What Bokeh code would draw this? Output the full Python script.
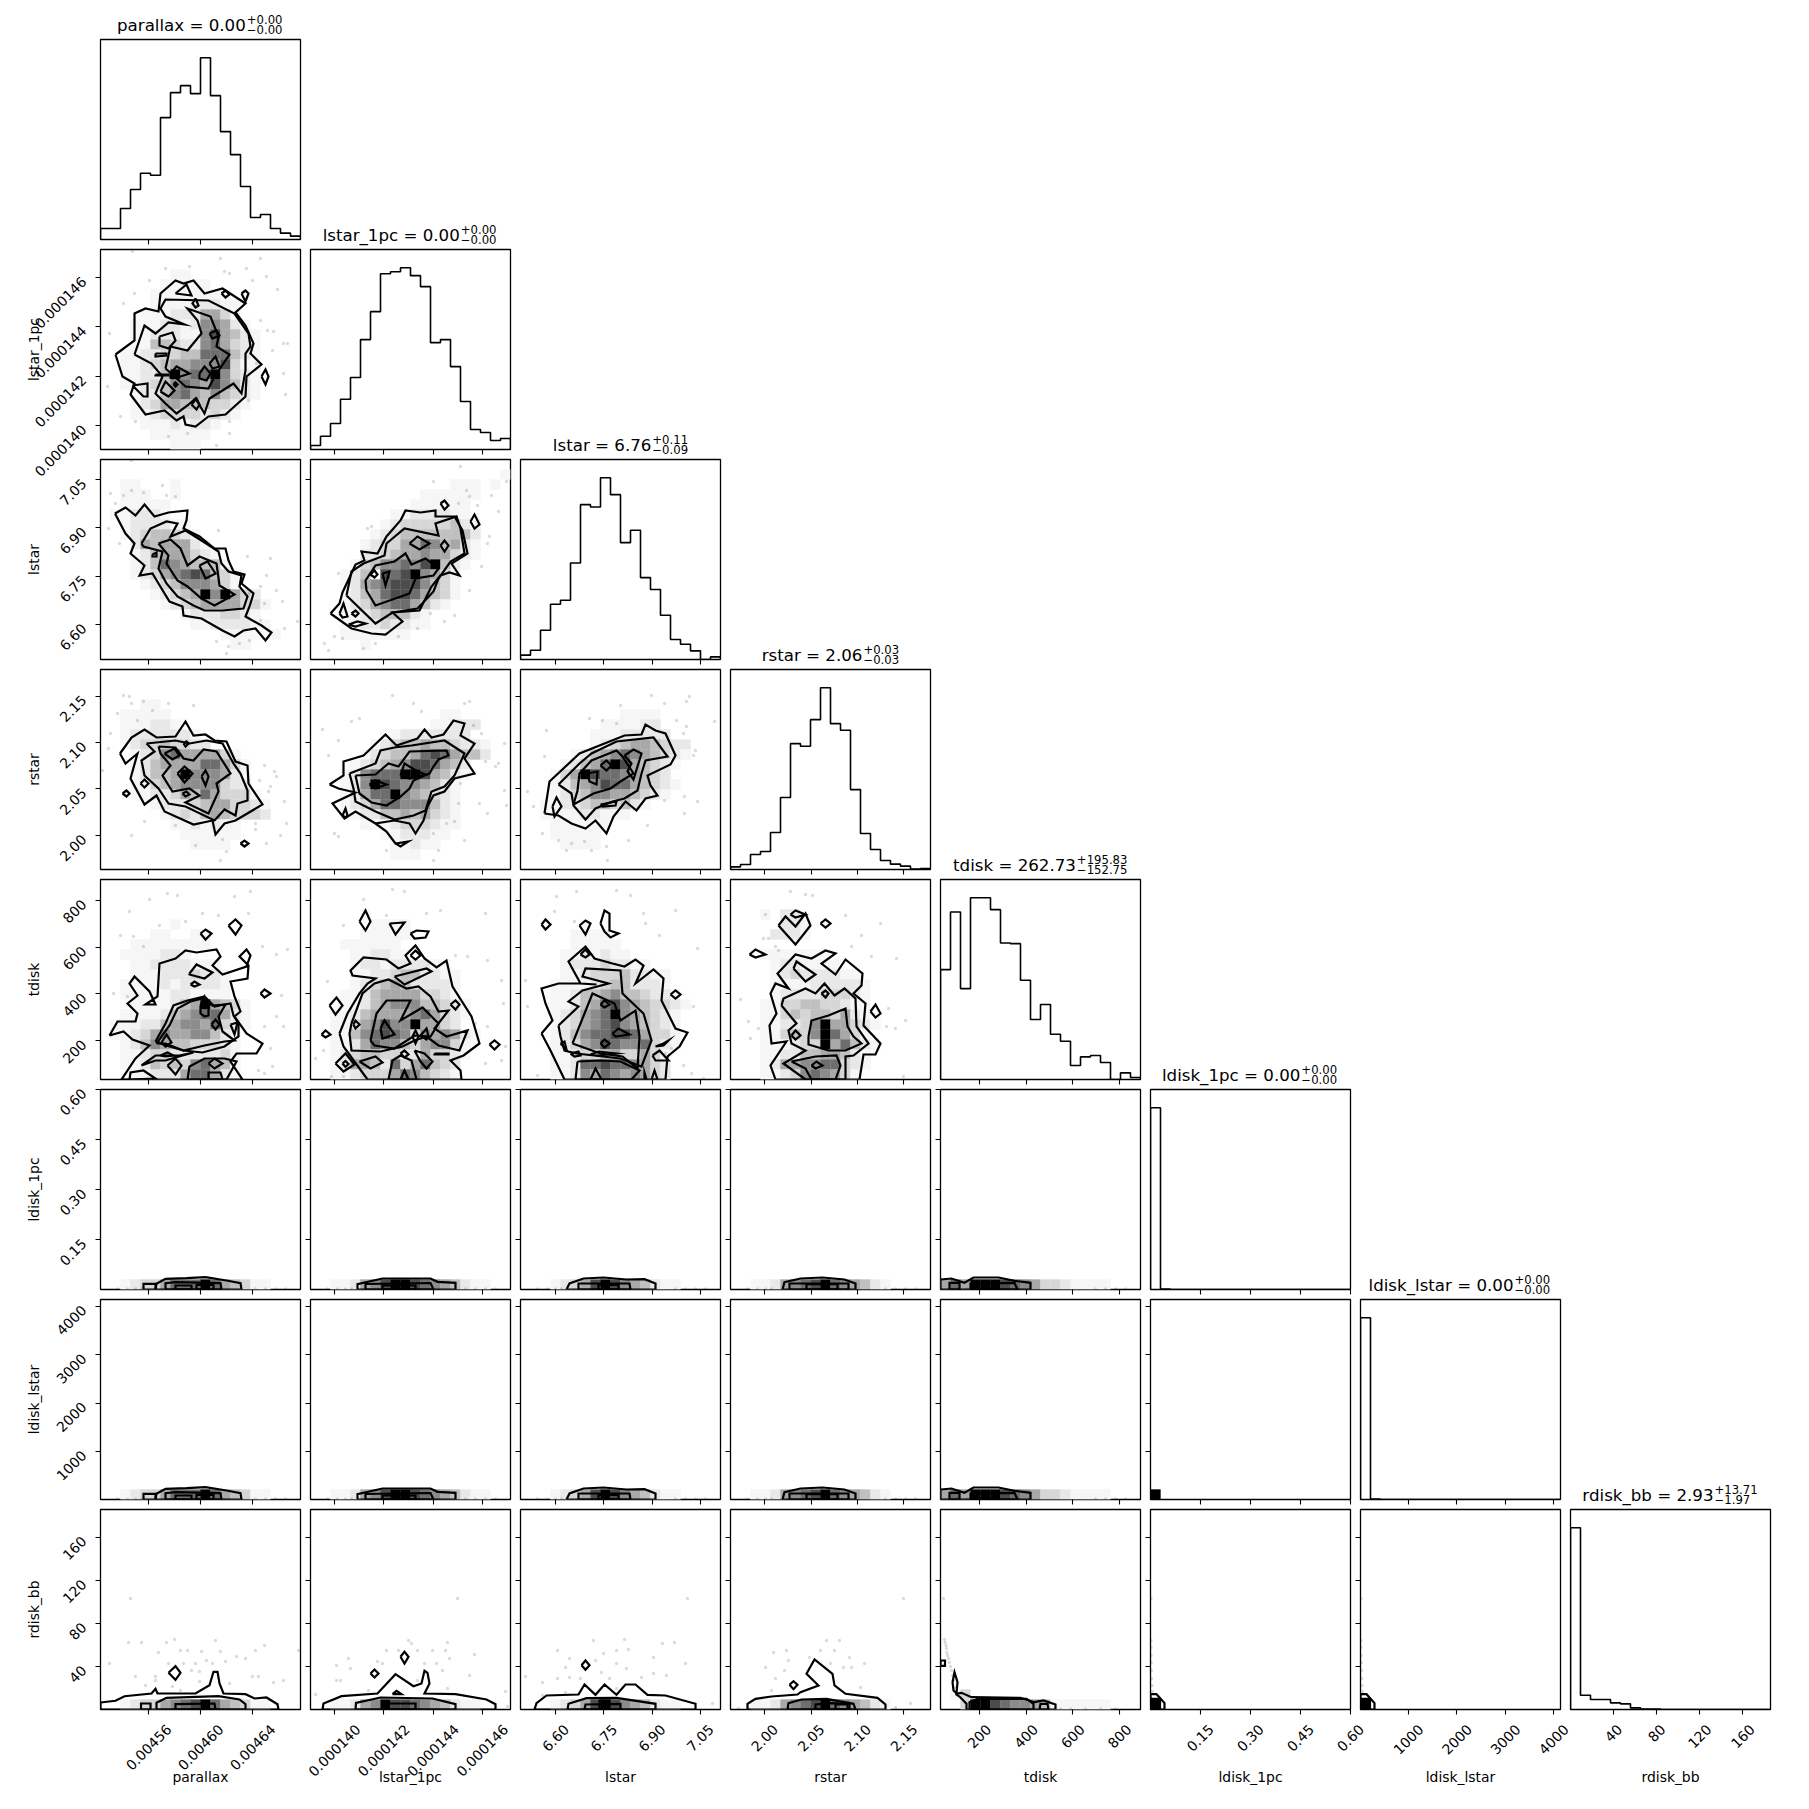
import math
import numpy as np
from bokeh.plotting import figure
from bokeh.layouts import row, column
from bokeh.models import Range1d, FixedTicker, Spacer
from bokeh.core.properties import value
from bokeh.embed import file_html
from bokeh.resources import INLINE

names = ["parallax", "lstar_1pc", "lstar", "rstar", "tdisk", "ldisk_1pc", "ldisk_lstar", "rdisk_bb"]
range_lo = [0.0045229, 0.00013903, 6.491, 1.9633, 34.0, 0.001, 7.0, 0.1]
range_hi = [0.0046768, 0.00014714, 7.113, 2.1786, 890.0, 0.60, 4138.0, 185.7]
tick_values = [
    [0.00456, 0.00460, 0.00464],
    [0.000140, 0.000142, 0.000144, 0.000146],
    [6.60, 6.75, 6.90, 7.05],
    [2.00, 2.05, 2.10, 2.15],
    [200, 400, 600, 800],
    [0.15, 0.30, 0.45, 0.60],
    [1000, 2000, 3000, 4000],
    [40, 80, 120, 160],
]
tick_labels = [
    ["0.00456", "0.00460", "0.00464"],
    ["0.000140", "0.000142", "0.000144", "0.000146"],
    ["6.60", "6.75", "6.90", "7.05"],
    ["2.00", "2.05", "2.10", "2.15"],
    ["200", "400", "600", "800"],
    ["0.15", "0.30", "0.45", "0.60"],
    ["1000", "2000", "3000", "4000"],
    ["40", "80", "120", "160"],
]
title_main = ["0.00", "0.00", "6.76", "2.06", "262.73", "0.00", "0.00", "2.93"]
title_up = ["+0.00", "+0.00", "+0.11", "+0.03", "+195.83", "+0.00", "+0.00", "+13.71"]
title_dn = ["\u22120.00", "\u22120.00", "\u22120.09", "\u22120.03", "\u2212152.75", "\u22120.00", "\u22120.00", "\u22121.97"]

hist_0 = [33,33,93,150,199,193,366,441,462,438,546,432,324,255,159,66,75,33,19,10]
hist_1 = [12,40,78,151,216,330,414,528,534,546,522,489,321,330,249,144,60,51,27,33]
hist_2 = [13,28,88,166,178,290,465,458,546,495,351,388,246,210,133,60,46,26,0,8]
hist_3 = [8,15,45,54,111,216,378,370,450,546,438,418,240,108,60,27,16,10,1,3]
hist_4 = [330,503,273,546,546,510,410,408,298,180,225,136,115,42,68,72,51,0,20,6]
hist_5 = [546,1,0,0,0,0,0,0,0,0,0,0,0,0,0,0,0,0,0,0]
hist_6 = [546,1,0,0,0,0,0,0,0,0,0,0,0,0,0,0,0,0,0,0]
hist_7 = [546,43,30,30,20,17,5,1,1,0,0,0,0,0,0,0,0,0,0,0]

# density cells: one string per bin row, top row first, digit = darkness
cells_1_0 = ["","","00000001100000000000","00000011111000000000","00000111111110000000","00000111122211000000",
 "00001112225531000000","00011122126652100000","00011222116854210000","00011443226753210000","00112233447774210000",
 "00112345566683110000","00112249677963210000","00112346765864210000","00012246754643210000","00012355444332100000",
 "00011233332321000000","00001112122100000000","00000111111000000000","00000001110000000000"]
cells_2_0 = ["","","00110001","00111001","00111110","0112221","0012222110","00123443210","000254555210","000124555321",
 "000124765444100","000123567874310","0000123466653100","0000012345969532","00000012345555331","0000000012223321",
 "00000000011222211","000000000000111111","00000000000001100",""]
cells_2_1 = ["","00000000000000000001","0000000000000011101","00000000000111111","0000000000111111","0000000011222211",
 "00000001233333421","00000012344444442","00000123355764521","00000223455655321","00001346676894210","0001240878965310",
 "00012567888643100","0001245788754310","000123567754210","000112344421000","00011223221100","000111111100","00000100",""]
cells_3_0 = ["","","","000011","0011111","00111221","0012222221","00123343322","00012367555531","0001245555775310",
 "000124459666521","000113456666322","00011223547533310","00000122234553321","00000012324543332","00000001121211",
 "00000000111111","0000000001111","",""]
cells_3_1 = ["","","","","000000000000011","00000000000011222","0000000112222222","000000123445443221","000001234457875442",
 "000012345688754 2","0001267779985421","000126987665421","000125779654321","0001235776664210","000112244545321",
 "00000111233 3211","000000011222 11","0000000011211","000000001110",""]
cells_3_2 = ["","","","","00000000001111","00000000111122","000000011122222","00000001234554322","00000124567654321",
 "00001245798543 21","000135987765432","00012456877543210","0001234665543210","0011223443421","001111221110",
 "0001111 11","0001111100","00001111","",""]
cells_4_0 = ["","","","","000000010","00000110011","00011111111","00111122 1","0001122221 11","00011122 232 21",
 "001111212 2221","0011111221111","000111124595431","001111245677521","011122456657321","01123565566421","00124654433321",
 "00112332222231","00112434367541","00011222577521"]
cells_4_1 = ["","","","00000100","0000001111","0000011111","0001111 11","0000112211","00001221222211","000011223442211",
 "000012345422221","000112455553321","000112456664 4321","00112455556 75321","001135686695532","00114678763656521",
 "001125766435 6631","0012344332253321","001255427357432","001123335764321"]
cells_4_2 = ["","","","","000000100","000001111","0000011111","000011212 11","000012223 2211","00001123334 2211",
 "0001111234 42221","0001124456 443221","0001124578654332 1","0001235679654321","000123567865 4321","00012467788753 31",
 "000123568766732 1","00011233453353 1","000112778776532","000112657656532"]
cells_4_3 = ["","","","00010 22","0000022 1","0000222 1","","0001111111","0000122 1111","00001232222 11","00001111222221",
 "000012222333 21","0001133443321 1","0001134344352 1","0001122369553 21","000113436975 31","000111233957421",
 "000112244554 21","000125566 77321","000112367653 1"]
cells_5_0 = ["00123357779754311000"]
cells_5_1 = ["00112568998765421100"]
cells_5_2 = ["00012358986542110000"]
cells_5_3 = ["00112567897654210000"]
cells_5_4 = ["57599987653321111000"]
cells_6_5 = ["9"]
cells_7_0 = ["00123356789754311000"]
cells_7_1 = ["00112569887654211000"]
cells_7_2 = ["00012358986542110000"]
cells_7_3 = ["00112567897654210000"]
cells_7_4 = ["01300000000000000000", "00399876654111111000"]
cells_7_5 = ["9"]
cells_7_6 = ["9"]

# contours in bin units along each axis (0-20)
cont_1_0 = [
 [(1.5,9.5),(3.4,10.9),(3.4,13.6),(4.5,14.1),(5.8,13.8),(6,15.6),(7.5,16.9),(8.3,16.6),(9.3,16.9),(10.4,15.6),(12.2,16.1),(14.5,14.6),(13.5,13.7),(14.5,12.4),(15.3,10.6),(15,9.6),(16.1,8.5),(14.6,7.3),(14.5,5.3),(12.5,3.5),(10.8,3.3),(9.5,2.3),(8.5,2.5),(8.3,3.3),(7.6,2.9),(6.4,3.9),(4.5,3.5),(3,5.5),(3.4,6.6),(2.2,7.3)],
 [(3.4,9.5),(4.4,12.4),(5.5,11.6),(6.8,12.7),(8.4,12.5),(6.5,13.3),(6,14.1),(6.5,15),(10.8,14.9),(13.4,13.6),(14.8,11.6),(15,10.3),(14.5,9.6),(14.5,7.9),(14.1,5.6),(13.3,6.6),(12.2,5.9),(10.9,5.1),(10.4,3.6),(9.5,5.1),(8.7,4.4),(7.6,3.6),(6.5,4.6),(5.5,5.6),(6.2,7.3),(5.1,8.6)],
 [(6.5,8.1),(7,10.3),(8.7,9.9),(10.1,11.6),(9.7,12.9),(8.7,14.1),(11,13.3),(11.8,11.3),(11.6,10.3),(12.9,9.5),(11.4,7.3),(10.8,6.1),(8.5,6.3),(7.4,7.3)],
 [(5.9,11.3),(7.2,11.7),(7.5,10.9),(6.8,10.1),(5.9,10.4)],
 [(5.5,9.6),(6.6,9.6),(6.6,9.4),(5.5,9.3)],
 [(7.5,15.6),(8.6,16.5),(9.1,15.4)],
 [(9.5,15.1),(9.8,14.4),(9.5,14.2),(9.2,14.6)],
 [(12.1,15.6),(12.5,15.9),(12.9,15.5),(12.5,15.2)],
 [(14.1,15.6),(14.5,15.9),(14.8,15.6),(14.5,14.8)],
 [(10.9,11.6),(11.6,11.9),(11.9,11.4),(11.2,11.1)],
 [(10.9,8.6),(11.5,9.3),(11.9,8.3),(11.2,8.1)],
 [(7,7.6),(7.6,8.3),(8.9,7.6),(8,7.3),(7,7.2)],
 [(5.5,7.5),(6.8,7.5),(6.8,7.4),(5.5,7.4)],
 [(9.9,7.6),(10.4,8.3),(11,7.6),(10.6,6.9),(9.9,7.1)],
 [(6,5.8),(6.5,6.8),(7.4,5.9),(6.8,5.3)],
 [(7.3,6.55),(7.5,6.7),(7.7,6.5),(7.5,6.3)],
 [(3.2,6.4),(4.7,6.6),(4.7,5.3),(4.3,5.3)],
 [(9.1,4.5),(9.6,5.1),(9.9,4.5),(9.6,4)],
 [(16.1,7.3),(16.5,8),(16.8,7.3),(16.5,6.5)],
]
cont_2_0 = [
 [(1.45,14.6),(2.5,15.2),(3.5,14.4),(4.4,15.5),(5.4,14.3),(6.8,14.7),(8.7,14.9),(8.6,13.9),(8.3,13.1),(9.9,12.3),(11.4,11.1),(12.5,11.1),(12.8,9.9),(13.3,8.8),(14.4,8.5),(14.1,7.6),(15.3,6.6),(14.9,5.3),(14.5,4.3),(16.1,3.4),(17.1,2.7),(16.5,1.9),(15.5,3.1),(14.3,2.9),(13.4,2.3),(12.2,2.9),(10.1,4.1),(8.3,4.4),(8.2,5.3),(6.9,5.8),(5.8,7.6),(5.2,8.6),(3.9,8.4),(4.4,9.4),(3,10.6),(3.4,11.6),(2.5,12.6)],
 [(4.1,11.6),(5,13.1),(6.6,13.8),(7.7,13.6),(7,12.3),(8.5,12.9),(10.1,11.9),(11.8,10.8),(12.1,9.6),(12.8,8.8),(14.1,8.4),(13.9,7.3),(14.7,6.3),(14.3,5.1),(12.2,4.9),(10.4,4.9),(9.3,5.4),(7.7,6.3),(6.6,7.6),(5.8,9.1),(6.2,10.8),(4.3,11.3)],
 [(5.8,11.6),(7,12),(8,11.1),(8.7,9.4),(9.9,10.3),(11.6,9.6),(11.9,7.4),(13.4,6.5),(11.4,5.4),(10.1,6.1),(8.7,7.3),(7.7,7.9),(6.6,9.6),(6.8,10.4)],
 [(9.9,9.4),(10.7,9.8),(11.5,8.6),(10.5,8.1)],
 [(5.2,10.5),(5.6,10.7),(5.6,10.3),(5.2,10.3)],
]
cont_2_1 = [
 [(2,4.6),(2.9,5.6),(3.2,6.7),(4.5,9.5),(5.4,9.9),(5.1,10.8),(6.7,10.6),(7.6,12.3),(9,13.9),(9.5,14.9),(11,14.7),(12.5,14.9),(12.5,14.3),(14.4,14.3),(15.2,12.9),(15.7,10.6),(14.1,9.6),(14.9,8.4),(13.9,8.7),(13,8.4),(12.1,7.3),(10.9,4.9),(8.2,4.7),(9.2,3.8),(7.5,2.5),(6.1,2.6),(4.1,3.1)],
 [(3.6,6.4),(4.1,8.8),(5.3,9.6),(7.4,10.4),(7.6,11.6),(9.4,13.1),(12.8,12.4),(12.5,13.6),(14.6,14.3),(15,13.1),(15.4,10.6),(14,9.8),(12.8,8.1),(12.3,6.8),(10.7,5.1),(8.2,4.7),(6.5,3.6)],
 [(5.5,7.9),(6.5,9.4),(8.4,9.8),(9.5,10.6),(10.1,9.5),(11.5,10.1),(12.8,9.1),(12.3,8.4),(10.5,8.1),(9.9,6.6),(8.2,6),(6.5,5.4),(5.6,6.9)],
 [(9.9,11.6),(10.7,12.3),(11.9,11.6),(10.9,11)],
 [(13,11.4),(13.4,11.9),(13.8,11.4),(13.4,10.8)],
 [(6,8.5),(6.4,8.9),(6.7,8.5),(6.4,8.2)],
 [(7.2,8.6),(7.9,8.8),(7.5,7.4)],
 [(13,15.6),(13.4,15.9),(13.8,15.4),(13.4,15)],
 [(16,13.8),(16.4,14.5),(16.9,13.5),(16.4,13.1)],
 [(2.9,4.6),(3.3,5.6),(3.7,4.3),(3.2,4.2)],
 [(4.1,4.6),(4.5,4.9),(4.8,4.6),(4.5,4.3)],
 [(3.8,3.5),(4.7,3.8),(5.5,3.6),(4.5,3.3)],
]
cont_3_0 = [
 [(1.95,11.6),(3.1,13.2),(4.4,14),(5.6,13.2),(7.5,13.3),(8.5,14.8),(9.3,13.4),(10.5,13.5),(11.4,12.9),(12.6,12.8),(13.5,10.8),(14.7,10.4),(14.8,8.6),(16.2,6.5),(13.5,4.9),(12.4,4.6),(11.5,3.5),(11.2,4.9),(9.3,4.5),(6.4,5.8),(5.6,7.4),(4.4,6.5),(3,9.1),(3.7,11.6),(2.5,10.6)],
 [(4.6,12.6),(7.5,12.9),(8.9,12.6),(10.6,12.9),(12.2,12.6),(13.3,10.6),(14,9.6),(14.7,7.9),(14.7,6.9),(13.7,6.6),(13.5,5.4),(12.4,6),(11.4,4.9),(8.5,6.3),(6.8,6.6),(5.8,8.1),(4.4,9.4),(4.1,10.9),(5.4,11.8)],
 [(5.8,12.3),(7.5,12.2),(8.3,11.1),(9.3,10.9),(10.3,12),(11.6,11.8),(13,9.6),(11.6,8.6),(11.8,7.8),(10.8,5.6),(8.5,6.7),(9.9,7.4),(8.9,8.1),(7.2,7.8),(6.2,9.4),(7,10.4),(6,11.6)],
 [(6.4,11.6),(7.4,12.1),(7.9,11.4),(7.2,11)],
 [(7.7,9.6),(8.4,10.3),(9.2,9.6),(8.4,8.7)],
 [(10.1,9.3),(10.5,9.9),(10.8,9.3),(10.5,8.4)],
 [(8.2,7.6),(8.6,7.8),(8.9,7.5),(8.5,7.3)],
 [(8.3,12.6),(8.6,12.8),(8.8,12.6),(8.5,12.3)],
 [(4,8.6),(4.4,9),(4.8,8.6),(4.4,8.2)],
 [(2.2,7.6),(2.6,7.9),(2.9,7.6),(2.6,7.3)],
 [(14,2.6),(14.4,2.9),(14.8,2.6),(14.4,2.3)],
]
cont_3_1 = [
 [(1.9,8.5),(3.3,9.4),(3.3,10.8),(5.3,11.4),(7.5,13.5),(8.6,12.4),(10.7,13.1),(11.4,14),(12.1,13.2),(13.3,13.5),(14.3,14.9),(15.4,14.6),(15,13.4),(16.4,12.6),(15.4,11.1),(16.4,9.6),(14.4,9.1),(13.4,7.8),(12.3,7.4),(11.7,6.3),(11.3,4.9),(10.5,3.6),(9.9,4.6),(8.4,4.9),(6.5,4.6),(7.6,3.8),(8.5,2.6),(9.8,2.8),(9,2.3),(8.5,2.6),(7.6,3.8),(6.5,4.6),(5.5,5.2),(4.5,5.8),(3.4,5.1),(2.2,6.6),(4.5,7.7),(2.8,8.1)],
 [(3.9,9.6),(6.5,10.6),(7,11.9),(8.4,12.2),(10.1,12.4),(13.4,12.9),(15.4,11.6),(14.4,9.4),(13.4,8.3),(12.1,7.8),(11.5,5.9),(10.3,5.4),(8.4,5),(6.5,5.8),(4.5,6.8),(4.3,8.1)],
 [(4.5,9.4),(6.5,9.5),(7.8,10.6),(8.8,10.3),(9.9,11.8),(13.6,11.9),(13.8,11.4),(12.8,11),(12.3,10.3),(11.9,9.6),(11.4,9.4),(10.3,8.9),(9.9,8.1),(9,7.3),(7.6,6.4),(6.1,6.7),(4.9,7.6)],
 [(9,9.4),(9.4,10.6),(10.7,9.8),(11.5,9.5),(9.9,9.1)],
 [(5.9,8.5),(6.5,8.9),(7.6,8.5),(6.5,8.1)],
 [(3.2,5.4),(3.5,6.1),(3.7,5.4),(3.5,5.2)],
]
cont_3_2 = [
 [(2.4,5.6),(2.9,8.8),(5.9,11.6),(10.4,13.4),(12.1,13.5),(12.5,14.5),(13.5,13.9),(14.5,13.6),(15.5,11.4),(15,10.5),(12.7,9.4),(13,8.4),(13.7,7.4),(12.5,7.1),(11.6,5.9),(10.5,6.8),(9.3,5.3),(8.6,3.6),(7.5,4.9),(6.5,4.1),(5.1,4.6),(3.8,5.4)],
 [(3.8,8.5),(5.9,10.6),(7.1,11.6),(9.6,12.8),(13.3,13.2),(14.7,11.3),(12.5,10.9),(12.1,9.6),(11.7,7.9),(10.4,7.1),(9.2,6.8),(7.5,6.1),(6.5,5),(5.3,6.4),(5.1,7.6)],
 [(5.3,6.5),(5.7,7.9),(5.9,9.6),(7.1,10.9),(9.6,11.9),(10.2,11.3),(11.3,9.6),(10,8.8),(9,8.1),(7.3,7.6)],
 [(10.4,11.4),(11.3,12),(12.1,11.6),(11.7,10.3),(11.3,9),(10.7,9.8),(11.1,10.6)],
 [(8,10.4),(8.6,10.9),(9.1,10.4),(8.6,9.9)],
 [(6.7,9.6),(7.7,9.8),(7.6,8.5),(6.9,8.8)],
 [(8,6.5),(9.6,6.8),(9.5,6.4),(8.2,6.3)],
 [(3.2,6.3),(3.6,7.2),(4.1,6.3),(3.4,5.3)],
]
cont_4_0 = [
 [(0.9,4.4),(1.7,5.8),(3.5,5.8),(3.7,6.6),(2.7,7.6),(3.7,8.4),(2.9,9.6),(3.4,10.3),(4.9,8.8),(5.5,7.5),(4.5,7.5),(5.7,8.3),(5.9,11.6),(7.5,12.1),(8.5,12.9),(9.6,12.7),(11.6,13),(12,12.3),(11.2,11.4),(12.2,10.5),(14.6,11.3),(15,12.4),(14.6,13),(13.9,12.3),(14.8,11.4),(14.7,10.1),(13,9.8),(13.4,8.3),(14,6.8),(13.4,6.3),(14.6,4.6),(16.2,3.6),(15.6,2.6),(13.6,2.6),(13,1.8),(14.2,0),(2.1,0),(3.5,2.1),(4.9,3.4),(3.2,4),(2.3,4.8)],
 [(5.5,3.8),(6.5,5.6),(7.3,7.4),(8.7,7.9),(10.4,8.3),(11.4,7.3),(12.4,7.5),(13,7.6),(13.3,6.4),(13.8,5.6),(13.8,4.3),(12.4,3.3),(10.2,2.7),(8.3,2.9),(6.9,3.3)],
 [(8.7,0),(8.9,1.3),(10.4,2.1),(12.4,2.1),(13.6,1.8),(12.6,0)],
 [(4.1,1.4),(5.5,2.4),(7.9,2.4),(9.3,2.7),(7.5,2.2),(6.5,1.9),(5.5,1.9)],
 [(2.9,0),(3,0.7),(4.3,0.9),(5.5,0.1)],
 [(5.6,3.6),(6.9,5.4),(7.7,7.1),(9,7.8),(10.2,8.1),(11.2,7.4),(12.5,7.5),(11.8,6.3),(12.2,4.8),(13.4,3.9),(12.4,3.8),(10.4,3.4),(8.3,2.9),(6.5,3.6)],
 [(6.1,3.7),(6.6,4.5),(7.1,3.7),(6.5,3.3)],
 [(6,2.4),(6.7,2.7),(7.3,2.4),(6.5,2.3)],
 [(6.7,1.4),(7.5,2.1),(8.1,1.4),(7.5,0.5)],
 [(10.8,1.6),(11.4,2.1),(12.2,1.6),(11.4,1.1)],
 [(10.8,0),(10.8,0.7),(12,0.7),(12.2,0)],
 [(10,7.4),(10.4,8.3),(10.8,7.6),(10.8,6.4),(10.4,6.3),(10,6.6)],
 [(11.1,5.5),(11.5,6),(11.9,5.5),(11.5,5)],
 [(13,5.5),(13.7,5.7),(13.4,4.5)],
 [(8.9,10.6),(9.6,11.5),(11.2,10.7),(10.4,10.1),(8.9,10.5)],
 [(9,9.5),(9.4,9.8),(9.9,9.5),(9.4,9.3)],
 [(10,14.6),(10.5,15),(11.1,14.6),(10.5,14)],
 [(12.8,15.4),(13.5,16),(14.1,15.4),(13.5,14.5)],
 [(16,8.6),(16.4,9),(17,8.6),(16.4,8.2)],
]
cont_4_1 = [
 [(2.9,4.6),(3.7,6.6),(4.9,8.6),(5.7,9.6),(6.5,10.1),(4.2,10.4),(4,10.9),(5.3,12.2),(7.6,12),(8.8,11.1),(10,11.6),(9.5,12.4),(10.5,13.4),(11.4,12.1),(12.6,11.2),(13.6,11.9),(14.2,9.3),(16.1,6.3),(16.9,3.6),(15.3,2.4),(14,1.9),(15,0.9),(15.1,0),(5.7,0),(4.9,1.1),(3.3,3.3)],
 [(2.5,1.6),(3.5,2.6),(4.4,1.5),(3.3,0.8)],
 [(3.2,1.6),(3.5,1.85),(3.8,1.55),(3.5,1.25)],
 [(4.1,5.6),(5.2,8.6),(6.4,9.6),(7.8,10),(9.6,9.1),(10.8,9.3),(12,8.3),(12.8,6.8),(13.8,6.9),(12.4,5.1),(13.6,4.3),(15.7,4.9),(14.9,2.9),(12.8,3.4),(11.6,4.3),(10.4,3.9),(9.2,3.3),(7,2.8),(4.1,2.9),(3.9,4.6)],
 [(6,3.9),(6.6,6.6),(7.6,7.9),(10,7.9),(9,5.9),(11.2,7.2),(12.8,5.6),(12,4.3),(10.4,4.4),(8.4,3.1),(6.4,3.4)],
 [(7,5.1),(7.4,5.9),(8.4,4.5),(7.2,4.1)],
 [(11,4.4),(11.6,5.1),(11.8,4.3),(11.6,4)],
 [(10.2,4.3),(10.5,4.9),(10.8,4.3),(10.5,3.6)],
 [(4.3,5.5),(4.5,5.9),(4.9,5.5),(4.5,5.1)],
 [(1.9,7.4),(2.6,8.2),(3.2,7.4),(2.5,6.5)],
 [(1.1,4.5),(1.5,4.9),(2,4.5),(1.5,4.2)],
 [(17.9,3.5),(18.4,3.9),(18.9,3.5),(18.4,3)],
 [(4.9,15.8),(5.5,16.9),(6,15.8),(5.5,14.9)],
 [(7.9,15.6),(9.4,15.7),(8.5,14.5)],
 [(10,14.6),(10.6,14.9),(11.8,14.8),(11.5,14.2),(10.4,14.1)],
 [(10,12.4),(10.5,12.9),(11,12.4),(10.5,12)],
 [(8.4,10.3),(11.6,11.1),(12.1,10.8),(9.4,9.5)],
 [(14,7.5),(14.5,7.9),(14.9,7.5),(14.5,7)],
 [(4.9,1.8),(6.5,2.3),(7.2,1.7),(6,1.1)],
 [(7.8,0),(8.2,1.9),(9,2.4),(10.1,1.9),(10.6,0)],
 [(9,0),(9.4,0.9),(9.8,0)],
 [(10.4,2.9),(11,1.8),(11.6,1.1),(12.2,1.8),(11.4,2.6)],
 [(9,2.6),(9.4,2.9),(9.8,2.5),(9.4,2.2)],
 [(12.4,2.6),(13.8,2.6),(13.8,2.5),(12.4,2.5)],
]
cont_4_2 = [
 [(2.1,4.6),(3.2,5.9),(2.5,7.6),(2.1,9.1),(3.8,9.6),(6,9.6),(7.6,9.5),(6,9.6),(4.8,11.8),(6.5,13.3),(7.4,12.1),(9.2,11.6),(10.4,11.3),(11.5,12),(12.3,11.4),(11.5,9.6),(13.3,11),(14.3,10.1),(14.1,7.9),(15.5,5.1),(16.7,4.7),(15.9,3.3),(14.7,2.3),(14.5,0),(4.4,0),(3,2.9)],
 [(3.8,5.4),(5.8,7.3),(4.8,7.8),(6.2,8.9),(8.8,9.6),(6.2,10.3),(6.5,11.1),(10,10.9),(10.2,8.6),(12.3,6.6),(13.1,3.9),(12.1,1.3),(10,2.1),(5.6,2.6),(4.4,2.9),(4,4.3)],
 [(5.2,3.6),(6.4,6.6),(7.2,8.6),(9.4,7.6),(10,5.9),(11.5,6.9),(11.9,4.3),(11.7,1.1),(10.2,2.3),(8,2.6)],
 [(8,7.5),(8.4,7.9),(8.9,7.5),(8.4,7.2)],
 [(9.2,4.6),(9.8,5.1),(10.9,4.5),(9.5,4.3)],
 [(8,3.6),(8.4,4),(8.9,3.6),(8.4,3.2)],
 [(4,3.6),(4.4,3.8),(4.6,3)],
 [(5,2.6),(5.8,2.8),(6,2.4),(5.4,2.3)],
 [(7,2.5),(7.8,2.8),(9.6,2.6),(7.8,2.4)],
 [(2.1,15.5),(2.5,16),(3,15.5),(2.5,15)],
 [(5.9,15.4),(6.5,15.9),(7,15.6),(6.5,14.5)],
 [(8,15.6),(8.4,16.9),(8.9,16.6),(8.9,14.9),(9.8,14.6),(9,14.2),(8.4,14.8)],
 [(6,12.5),(6.5,13),(6.9,12.5),(6.5,12.2)],
 [(15,8.5),(15.5,8.9),(16,8.5),(15.5,8.1)],
 [(13.5,3.3),(14.3,3.6),(14.8,3.9),(14.3,3.4)],
 [(13.2,2.4),(13.9,2.9),(14.8,1.9),(13.5,1.9)],
 [(5.7,1.8),(8,1.9),(10,1.8),(11.9,0.9),(11.1,0),(5.5,0)],
 [(7,0),(7.5,1.1),(8.1,0)],
 [(12.4,0),(12.4,0.7),(12.6,0)],
 [(13.1,0),(13.4,0.9),(13.7,0)],
]
cont_4_3 = [
 [(4.5,0),(4,1.4),(5.6,3.8),(4.1,3.6),(3.9,5.4),(4.6,6.6),(4,8.6),(4.5,9.6),(5.8,9.1),(4.7,10.6),(6.5,12.5),(8.1,12.1),(9.5,12.9),(10.5,12.6),(9.1,11.6),(10.5,10.5),(11.5,12),(13.2,10.6),(13.1,9.4),(12.3,8.6),(13.5,7.6),(13.3,5.4),(15,3.6),(14.5,2.5),(13.3,2.5),(12.9,0)],
 [(5.1,7.4),(5.3,8.1),(7.5,9.1),(8.5,8.6),(9.4,9.6),(10.4,8.4),(11.4,9.1),(12.5,8.1),(12.6,5.3),(13.8,3.6),(12.3,2.4),(11.5,2.3),(11.5,0),(7.5,0),(5.3,1.6),(7.5,2.9),(6.1,3.6),(5.8,4.9),(6.6,5.6)],
 [(7.8,4.3),(8.1,5.9),(9.8,6.4),(11.5,7.1),(11.7,5.3),(12.3,4.3),(13.1,3.6),(11.5,2.9),(9.8,2.9),(7.8,3.5)],
 [(6.1,1.8),(8.5,2.3),(10.6,2.4),(11,1.4),(10.5,0),(8.1,0),(7.5,1.1)],
 [(6.3,11.1),(6.6,11.8),(8.5,10.5),(7.5,9.8)],
 [(9.1,8.6),(9.5,8.9),(9.8,8.6),(9.5,8.2)],
 [(6.1,4.4),(6.5,4.9),(7,4.4),(6.5,4)],
 [(8.1,1.4),(8.6,1.8),(9.2,1.4),(8.5,1.1)],
 [(1.9,12.5),(2.5,13),(3.5,12.5),(2.5,12.2)],
 [(4.8,15.4),(5.5,16.3),(6.5,15.3),(7.5,16.6),(8,15.4),(6.5,13.5)],
 [(6,16.5),(6.5,16.9),(7.5,16.5),(6.5,16.2)],
 [(9,15.6),(9.5,16),(10,15.6),(9.5,15.2)],
 [(14,6.8),(14.5,7.5),(15,6.6),(14.5,6.2)],
]
cont_5_0 = [
 [(5.5,0),(5.6,0.57),(6.5,1.07),(8.6,1.13),(10.5,1.23),(12.6,0.9),(14,0.63),(14.1,0)],
 [(4.3,0),(4.3,.57),(5.5,.57),(5.5,0)],
 [(6.5,0),(6.5,.63),(7.5,.73),(12,.63),(12.1,0)],
 [(7.5,0),(7.5,.4),(9.1,.4),(9.1,0)],
 [(9.6,0),(9.6,.47),(11.3,.47),(11.3,0)],
]
cont_5_1 = [
 [(4.7,0),(4.7,.53),(7.2,1.1),(12,1.1),(12.7,.77),(14.5,.67),(14.5,0)],
 [(5.5,0),(5.5,.55),(12,.65),(12.3,0)],
 [(7.2,0),(7.2,.4),(10.5,.4),(10.5,0)],
]
cont_5_2 = [
 [(4.6,0),(4.9,.6),(6.3,1.1),(8.3,1.2),(10.6,1),(12.4,1.03),(13.5,.6),(13.5,0)],
 [(5.8,0),(5.8,.6),(10.9,.6),(11,0)],
 [(7.8,0),(7.8,.47),(9.8,.47),(9.8,0)],
]
cont_5_3 = [
 [(5.2,0),(5.4,.73),(7,1.1),(9.2,1.2),(11.4,1),(12.5,.6),(12.5,0)],
 [(5.9,0),(5.9,.6),(11.8,.6),(11.8,0)],
 [(7.6,0),(7.6,.53),(10.7,.53),(10.7,0)],
]
cont_5_4 = [
 [(0,1),(1.1,1.1),(2.4,.67),(3.3,1.2),(5.8,1.2),(7.4,.87),(9,.67),(9,0),(0,0)],
 [(0.9,0),(0.9,.67),(1.9,.67),(1.9,0)],
 [(3,0),(3,.6),(7.4,.67),(7.7,0)],
]
cont_7_0 = [
 [(0,.7),(1.5,.87),(2.4,1.33),(5.1,1.6),(5.5,2.07),(5.7,1.6),(9.5,1.6),(10.9,2.43),(11.3,3.77),(11.7,3.77),(11.9,2.6),(12.3,1.6),(14.5,1.53),(15.4,1.1),(16.6,1.2),(17.7,.53),(17.8,0),(0,0)],
 [(5.6,0),(5.6,.67),(6.6,1.17),(11.8,1.33),(13.9,1),(14.5,.53),(14.5,0)],
 [(4.05,0),(4.05,.6),(5,.6),(5,0)],
 [(7.5,0),(7.5,.53),(11.4,.6),(11.5,0)],
 [(6.8,3.67),(7.5,4.33),(8,3.67),(7.5,2.97)],
]
cont_7_1 = [
 [(1.2,0),(1.3,.6),(3.1,1.33),(6.7,1.6),(8.5,3.53),(10.3,2.33),(11.1,2.6),(11.4,3.87),(11.7,3.67),(11.9,2.6),(11.4,1.6),(14.5,1.53),(17.6,1),(18.5,.53),(18.5,0)],
 [(4.5,0),(4.55,.67),(7,1.2),(12.2,1.1),(14.5,.53),(14.5,0)],
 [(7.4,0),(7.4,.6),(10.5,.6),(10.5,0)],
 [(6,3.6),(6.4,4),(6.8,3.6),(6.4,3.2)],
 [(9,5.27),(9.4,5.77),(9.8,5.27),(9.4,4.6)],
 [(8.2,1.53),(8.6,1.87),(9.1,1.53)],
]
cont_7_2 = [
 [(1.4,0),(1.6,.63),(2.6,1.4),(5.8,1.5),(6.4,2.5),(7.5,1.47),(8.4,2.5),(9.6,1.47),(10.5,2.5),(11.5,2.5),(12.7,1.47),(14.5,1.4),(17.5,.57),(17.5,0)],
 [(4.7,0),(4.8,.57),(6.6,1.13),(9.6,1.17),(13.5,.57),(13.5,0)],
 [(6.4,0),(6.5,.5),(10,.57),(10,0)],
 [(7.9,0),(7.9,.9),(8.9,.9),(8.9,0)],
 [(6.1,4.43),(6.5,4.9),(6.9,4.43),(6.5,3.97)],
]
cont_7_3 = [
 [(1.7,0),(1.7,.57),(2.5,1.07),(4.1,1.3),(6.7,1.5),(7,1.73),(8.8,2.4),(7.6,3.57),(8.4,5),(10.2,3.57),(10.4,2.4),(11.5,1.57),(14.7,1.17),(15.5,.5),(15.5,0)],
 [(5.7,0),(5.8,.63),(7.1,1),(9.6,1.07),(12.3,.57),(12.5,0)],
 [(8.5,0),(8.5,.5),(10,.63),(11.9,.57),(11.9,0)],
 [(10.5,0),(10.5,.5),(11.7,.5),(11.7,0)],
 [(5.9,2.47),(6.3,2.83),(6.7,2.47),(6.3,2.03)],
]
cont_7_4 = [
 [(0,4.9),(.45,4.9),(.45,4.37),(0,4.37)],
 [(1.2,2.73),(1.4,3.73),(1.7,2.73),(1.6,1.63),(1.3,1.9)],
 [(1.5,1.57),(2.1,1.67),(3.1,1.23),(8,1.17),(9.4,.73),(10.3,.9),(11.5,.5),(11.5,0),(2.6,0),(2.6,.57),(1.9,1.3)],
 [(2.9,0),(2.9,.73),(3.7,1.07),(8.6,1.07),(9.3,.57),(9.3,0)],
 [(9.9,0),(10,.57),(10.7,.57),(10.8,0)],
]
cont_7_5 = [
 [(0,1.53),(.6,1.53),(1.4,.64),(1.4,0),(0,0)],
 [(0,1.07),(.95,1.07),(.95,0),(0,0)],
]
cont_7_6 = [
 [(0,1.53),(.6,1.53),(1.4,.64),(1.4,0),(0,0)],
 [(0,1.07),(.95,1.07),(.95,0),(0,0)],
]

# scattered samples in bin units
pts_1_0 = [(3.2,19.8),(6.5,18.1),(12,19.1),(16,19.1),(8.9,18.3),(12.4,17.8),(12.9,17.6),(14.6,18.1),(15.2,16.9),(16.6,17.3),(17.7,16),(2.3,14.6),(4.9,16.9),(3.4,15.6),(.9,11.6),(.7,6.3),(18.3,10.6),(18.7,10.6),(17.2,9.9),(16.7,11.9),(17.3,11.8),(16,12.9),(15.6,8.6),(18.3,7.6),(18.5,5.5),(14.8,4.9),(2,3.3),(3.5,2.8),(8.7,1.6),(11.6,.4),(12.9,1.6),(12.9,2.8),(6.8,1.3)]
pts_2_0 = [(3.1,19.9),(2.3,16.4),(3.1,16.9),(4.3,16.7),(6.2,17.4),(6.6,16.4),(7.5,16.3),(1,16.6),(1.5,15.6),(.8,13.1),(1.9,11.6),(11.8,12.9),(14.7,10.3),(17,10.1),(16,7.3),(16.6,8.4),(17.6,6.9),(18.2,5.8),(18.4,3.1),(11.6,1.8),(12.8,1.3),(13.9,1.6),(14.9,1.9),(16.4,5.6),(19.7,3.8),(14.9,6.6),(16,3.9),(12.6,.6)]
pts_2_1 = [(12.3,17.8),(15,19.3),(15.6,16.9),(15.9,16.3),(18.1,16.4),(16.7,15.4),(14.8,15.6),(18.8,14.8),(17.7,11.6),(17.1,9.3),(15.9,6.9),(14.4,4.4),(13.4,3.8),(12,4.6),(10.7,3.1),(8.8,2.3),(6.5,1.6),(3.2,2.1),(2.4,2.3),(1.4,1.6),(5.7,13.1),(6.1,13.3),(4.9,4.9),(2.8,8.6),(1.8,.9),(5.3,1.1),(19.6,17.8),(17.9,12.3)]
pts_3_0 = [(2.3,17.4),(2.9,17.3),(4.3,16.8),(3.1,16.6),(6.8,16.6),(9.3,16.4),(5.2,15.9),(3.7,14.9),(1.7,15.6),(1,13.6),(.8,12.1),(.2,9.9),(16.4,10.4),(17.4,9.8),(15.9,8.9),(17,8.3),(17.6,9.3),(16.8,7.8),(18.4,6.8),(18.6,4.6),(18,3.4),(15.5,4.6),(15.5,4),(12.2,3),(12,.9),(12.6,1.8),(9.5,2.4),(3.1,3.4),(4.4,4.8),(7.5,4.4),(16.6,2.6)]
pts_3_1 = [(8.2,17.4),(10.3,16.6),(15.4,16.6),(15.9,16.8),(11.1,15.8),(4.9,15.1),(4.1,14.8),(1.2,14),(17.1,13.6),(19.4,12.6),(17.5,10.8),(18.8,10.6),(18.5,10.3),(16.3,14.4),(15,8.6),(14.8,6.6),(16.9,6.6),(17.7,5.6),(19.4,7.9),(19.6,6.4),(14.4,4.8),(13.6,4.6),(12.3,3.6),(12.8,1.9),(15.4,2.9),(7.6,1.9),(12.3,.9),(2.8,3.3),(2.4,3.6),(2.8,12.9),(1.8,11.4)]
pts_3_2 = [(13.1,17.4),(16.9,17.3),(14.4,16.6),(16.6,16.8),(10,16.4),(6.9,15.1),(8.2,14.9),(9.6,14.6),(2.6,13.9),(15.6,14.9),(16.6,14.3),(19.4,14.8),(16.3,13.6),(17.5,11.9),(17.3,11.4),(2.4,11.3),(.7,7.8),(1.3,6.3),(2.2,3.6),(3.8,2.9),(5.1,2.6),(6.4,2.8),(8.6,2.3),(7.1,1.9),(8.7,.9),(4.6,1.9),(10.8,2.9),(16.4,7.3),(14.4,6.9),(17.7,6.8),(16.4,5.6),(12.7,4.4)]
pts_4_0 = [(6.7,18.6),(7.7,18.4),(15,18.8),(13.4,18.3),(2.9,16.8),(5.9,15.4),(8.5,15.8),(10.2,16.6),(11.8,16.4),(14.8,16.6),(2,14.4),(4.3,13.3),(3.3,14.3),(18.7,13),(16.2,13.3),(17.6,12.5),(1.3,8.6),(2.7,8.3),(18.1,8.4),(17.6,6.3),(16.4,5.3),(18.3,5.3),(17,3.1),(17.2,1.3),(15.8,.9),(16.4,.6),(4.9,18)]
pts_4_1 = [(5.3,18),(8.2,19),(9.4,18.8),(3.3,15.4),(7.6,16.4),(11.6,16.6),(13,16.9),(17.5,16.6),(1.7,9.8),(14.5,12.4),(15.7,12.3),(17.7,11.9),(19.1,9.9),(19.3,7.6),(16.5,5.6),(17.7,5.3),(19.5,3.3),(17.5,1.6),(19.1,1.9),(1.3,2.9),(.5,2.1),(3.3,.3),(2.1,.3)]
pts_4_2 = [(3.6,18.3),(5.6,18.8),(9.6,18.9),(11,18.4),(3.4,16.8),(5.4,15.8),(12.3,16.6),(15.5,16.9),(13.9,14.4),(17.7,13.1),(12.5,15.6),(.5,9.9),(.7,7.3),(17.3,7.3),(15.1,3.1),(16.3,1.4),(17.1,.6),(14.5,2.6),(18.3,.1),(1.7,.4)]
pts_4_3 = [(6,18.8),(7.5,18.5),(8.2,18.4),(3.5,16.5),(3.3,14.1),(3.8,14.1),(4.5,13.3),(4.8,12.9),(11.5,16.4),(15,15.6),(13.1,14.4),(12.1,13.3),(14.1,12.3),(16.6,12.1),(1,8),(1.8,5.8),(2.8,5.1),(2,4.1),(15.8,7.1),(17.5,5.9),(16.5,5.1),(15.6,5.3),(17.3,.3)]
pts_low = [(1.7,.05),(2.7,.06),(3.5,.05),(4.1,.06),(15.5,.05),(16.5,.06),(17.5,.05),(18.5,.05)]
pts_7_0 = [(.9,4.6),(3,11.1),(2.8,6.7),(4.1,6.7),(6.6,6.7),(7.4,7),(11.5,6.9),(16.4,6.4),(15.5,5.9),(19.8,5.9),(5.8,5.7),(8,5.9),(8.7,5.9),(10.1,5.8),(12,5.8),(12.5,4.8),(13.6,5.3),(14.5,5.1),(3.5,3.3),(5.5,3.3),(6.8,4.6),(8.3,4.6),(9.5,4.6),(10.6,4.9),(9.1,3.9),(9.9,3.8),(4.5,2.4),(5.5,2.9),(9.9,2.8),(12.9,2.6),(15.2,3.3),(15.8,3.3),(18.3,2.9),(17.3,2.7),(7.2,2.3),(8,1.9),(11.2,4.6)]
pts_7_1 = [(14.7,11.1),(9.8,6.9),(10.1,6.6),(13.7,6.7),(16.4,5.5),(2.6,4.4),(3.8,5.1),(4,4.1),(2.6,2.9),(3,2.9),(6.7,4.8),(7.2,4.6),(7.6,5.9),(10.7,5.9),(12.2,5.9),(13.5,5.9),(13.2,3.9),(12.6,4.6),(13.9,5.1),(15.9,3.4),(19.5,1.8),(.5,1.5),(5.8,1.9),(8.8,5.9),(11.4,4.6),(13.7,2.1),(10.7,2.9),(19.7,.3)]
pts_7_2 = [(16.7,11.1),(3.7,5.9),(7.3,6.9),(10.4,7),(4.9,5.1),(4.5,4.2),(.5,3.3),(2.2,2.7),(3.7,3.1),(4.9,3.2),(6,3.1),(8.3,5.6),(9.6,5.9),(10.8,6),(13.3,5.2),(14.2,6.6),(15.4,6.7),(16.5,4.6),(8.1,3.7),(9.6,4.6),(10.6,4.1),(12.1,3.2),(13.3,3.6),(14.6,3.4),(7.5,4.9),(8.9,3.1),(19.2,.6),(2.2,1.4),(4.5,1.7),(9.6,2.1)]
pts_7_3 = [(17.3,11.1),(9,5.9),(9.6,6.9),(10.9,6.9),(5.6,5.9),(4.3,5.7),(3.5,4.2),(4.5,3.1),(4.1,1.9),(5.4,3.9),(7.9,5.2),(10.4,5.9),(11.9,5.2),(13.4,4.6),(11.3,4.2),(10,4.6),(12.1,4.2),(13,2.2),(16.5,.2),(18,.6),(.8,.1),(5.8,4.9)]
pts_7_4 = [(.3,11.1),(.4,7),(.46,6.7),(.55,6.4),(.6,6.1),(.63,5.7),(.7,5.4),(.8,5.1),(.88,4.7),(1,4.3),(1.1,3.9),(1.2,3.4),(1.3,2.9),(1.4,2.2),(12,.06),(13,.05),(14.5,.06),(16,.05),(17.5,.06)]
pts_7_5 = [(.05,11.1),(.05,6.9),(.06,6.2),(.07,5.4),(.08,4.7),(.1,3.9),(.12,3.1),(.15,2.4),(.2,1.8)]
pts_7_6 = [(.05,11.1),(.05,6.9),(.06,6.2),(.07,5.4),(.08,4.7),(.1,3.9),(.12,3.1),(.15,2.4),(.2,1.8)]

GREYS = {"1": "#f6f6f6", "2": "#e8e8e8", "3": "#d6d6d6", "4": "#c0c0c0", "5": "#a8a8a8",
         "6": "#8c8c8c", "7": "#6e6e6e", "8": "#4c4c4c", "9": "#000000"}
FONT = "DejaVu Sans"
CW = {'a':.613,'b':.635,'c':.55,'d':.635,'e':.615,'f':.352,'g':.635,'h':.634,'i':.278,'j':.278,'k':.579,'l':.278,
      'm':.974,'n':.634,'o':.612,'p':.635,'q':.635,'r':.411,'s':.521,'t':.392,'u':.634,'v':.592,'w':.818,'x':.592,
      'y':.592,'z':.525,'_':.5,'.':.318,' ':.318,'=':.838,'+':.838,'\u2212':.838}
def text_w(s, size):
    return sum(CW.get(c, .636) for c in s) * size

def rot_half(label):
    return (text_w(label, 13.9) + 10) * 0.707

FRAME = 200
TOP = 39          # frame top of the first row on the page
LEFT = 100        # frame left of the first column on the page
B_L, B_R, B_T, B_B = 6, 4, 4, 6
TITLE_H = 37
N = len(names)
G = globals()

def bin_x(col, b):
    return range_lo[col] + (range_hi[col] - range_lo[col]) * np.asarray(b, dtype=float) / 20.0
def bin_y(r, b):
    return range_lo[r] + (range_hi[r] - range_lo[r]) * np.asarray(b, dtype=float) / 20.0

def text_strip(w, h):
    s = figure(width=w, height=h, x_range=Range1d(0, w), y_range=Range1d(h, 0), x_axis_type=None, y_axis_type=None,
               toolbar_location=None, output_backend="svg", outline_line_color=None, min_border=0,
               border_fill_color=None, background_fill_color=None)
    s.grid.visible = False
    return s

def add_text(s, x, y, txt, size, angle=0.0, align="center", baseline="middle"):
    s.text(x, y, text=txt, angle=angle, text_align=align, text_baseline=baseline,
           text_font=value(FONT), text_font_size=value(size), text_color="black")

def base_fig(r, c, diag):
    top = TOP - TITLE_H if diag else B_T
    xr = Range1d(range_lo[c], range_hi[c])
    if diag:
        yr = Range1d(0, 1.1 * max(G[f"hist_{c}"]))
    else:
        yr = Range1d(range_lo[r], range_hi[r])
    kw = {"y_axis_type": None} if diag else {}
    p = figure(width=B_L + FRAME + B_R, height=top + FRAME + B_B, x_range=xr, y_range=yr,
               min_border_left=B_L, min_border_right=B_R, min_border_top=top, min_border_bottom=B_B,
               toolbar_location=None, output_backend="svg", outline_line_color="black",
               outline_line_width=1.3, background_fill_color="white", border_fill_color=None, **kw)
    p.grid.visible = False
    axes = [p.xaxis[0]] + ([] if diag else [p.yaxis[0]])
    for a in axes:
        a.axis_line_color = None
        a.major_tick_in = 0
        a.major_tick_out = 5
        a.major_tick_line_color = "black"
        a.major_tick_line_width = 1.1
        a.minor_tick_line_color = None
        a.major_label_text_color = None
        a.major_label_text_font_size = "1px"
        a.major_label_standoff = 0
    p.xaxis[0].ticker = FixedTicker(ticks=tick_values[c])
    if not diag:
        p.yaxis[0].ticker = FixedTicker(ticks=tick_values[r])
    return p

def title_strip(c):
    s = text_strip(B_L + FRAME + B_R, TITLE_H)
    cx = B_L + FRAME / 2
    main = f"{names[c]} = {title_main[c]}"
    wm, ws = text_w(main, 16.67), text_w(title_up[c], 11.67)
    xm = cx + (wm + ws) / 2 - ws
    add_text(s, [xm], [TOP - 14.5], [main], "16.67px", align="right", baseline="alphabetic")
    add_text(s, [xm + 1], [TOP - 20.4], [title_up[c]], "11.67px", align="left", baseline="alphabetic")
    add_text(s, [xm + 1], [TOP - 10], [title_dn[c]], "11.67px", align="left", baseline="alphabetic")
    return s

def diag_panel(c):
    p = base_fig(c, c, True)
    h = G[f"hist_{c}"]
    edges = np.linspace(range_lo[c], range_hi[c], 21)
    xs = np.repeat(edges, 2)
    ys = np.concatenate([[0], np.repeat(h, 2), [0]])
    p.line(xs, ys, line_color="black", line_width=1.6)
    return p

def grid_panel(r, c):
    p = base_fig(r, c, False)
    src_r = 5 if (r == 6 and c < 5) else r
    cells = G.get(f"cells_{src_r}_{c}", [])
    l, rr, t, b, col = [], [], [], [], []
    nrows = 20
    if src_r in (5, 7) or (r == 6 and c == 5):
        nrows = len(cells)
    for i, s in enumerate(cells):
        s = s.replace(" ", "").ljust(20, "0")[:20]
        yy = nrows - 1 - i
        for j, ch in enumerate(s):
            if ch in GREYS:
                l.append(j); rr.append(j + 1); b.append(yy); t.append(yy + 1); col.append(GREYS[ch])
    if l:
        p.quad(left=bin_x(c, l), right=bin_x(c, rr), bottom=bin_y(r, b), top=bin_y(r, t),
               fill_color=col, line_color=col, line_width=0.3)
    if r in (5, 6) and c < 5:
        pts = pts_low
    else:
        pts = G.get(f"pts_{r}_{c}", [])
    if pts:
        a = np.array(pts)
        p.scatter(bin_x(c, a[:, 0]), bin_y(r, a[:, 1]), size=3.3, marker="circle", fill_color="black",
                  fill_alpha=0.14, line_color=None)
    cont = G.get(f"cont_{src_r}_{c}", [])
    if cont:
        xs, ys = [], []
        for poly in cont:
            a = np.array(poly + [poly[0]])
            xs.append(bin_x(c, a[:, 0]).tolist())
            ys.append(bin_y(r, a[:, 1]).tolist())
        p.multi_line(xs, ys, line_color="black", line_width=2.2, line_join="miter")
    return p

cols = []
for c in range(N):
    items = []
    if c > 0:
        items.append(Spacer(width=B_L + FRAME + B_R, height=210 * c))
    items.append(title_strip(c))
    items.append(diag_panel(c))
    for r in range(c + 1, N):
        items.append(grid_panel(r, c))
    cols.append(column(*items, spacing=0))

# y tick labels and y axis names
left_w = LEFT - B_L
left_h = TOP + 210 * (N - 1) + FRAME + B_B
left_strip = text_strip(left_w, left_h)
yx, yy, yt = [], [], []
for r in range(1, N):
    y0 = TOP + 210 * r
    for v, lab in zip(tick_values[r], tick_labels[r]):
        w = rot_half(lab)
        yx.append(87 - w / 2)
        yy.append(y0 + (range_hi[r] - v) / (range_hi[r] - range_lo[r]) * FRAME - 2 + w / 2)
        yt.append(lab)
add_text(left_strip, yx, yy, yt, "13.9px", angle=math.pi / 4)
add_text(left_strip, [33] * (N - 1), [TOP + 210 * r + FRAME / 2 for r in range(1, N)], names[1:], "13.9px",
         angle=math.pi / 2)

# x tick labels and x axis names
STRIP_H = 90
strip = text_strip(1790, STRIP_H)
tx, ty, tt = [], [], []
for c in range(N):
    x0 = LEFT + 210 * c
    for v, lab in zip(tick_values[c], tick_labels[c]):
        w = rot_half(lab)
        tx.append(x0 + (v - range_lo[c]) / (range_hi[c] - range_lo[c]) * FRAME)
        ty.append(14 + w / 2 - B_B)
        tt.append(lab)
add_text(strip, tx, ty, tt, "13.9px", angle=math.pi / 4)
add_text(strip, [LEFT + 210 * c + FRAME / 2 for c in range(N)], [67 - B_B] * N, names, "13.9px")

page = column(row(left_strip, *cols, spacing=0), strip, spacing=0)
open("out.html", "w").write(file_html(page, INLINE))
